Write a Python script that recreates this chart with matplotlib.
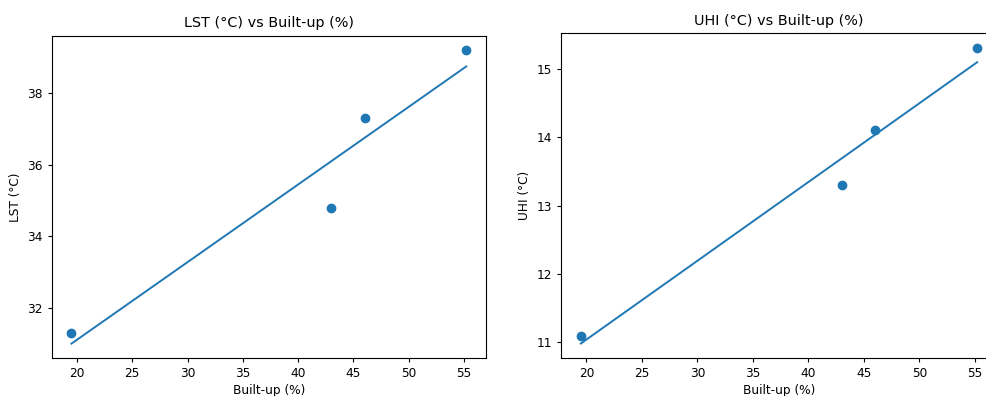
import numpy as np
import matplotlib
matplotlib.use("Agg")
import matplotlib.pyplot as plt

built_up = [19.5, 43.0, 46.0, 55.2]
lst = [31.3, 34.8, 37.3, 39.2]
uhi = [11.1, 13.3, 14.1, 15.3]

plt.rcParams['font.size'] = 8.7
plt.rcParams['axes.titlesize'] = 10.4

fig = plt.figure(figsize=(9.87, 3.96), dpi=100)
ax1 = fig.add_axes([0.0524, 0.0952, 0.440, 0.8146])
ax2 = fig.add_axes([0.5684, 0.0952, 0.4417, 0.8207])

def scatter_fit(ax, x, y, name):
    x = np.array(x)
    y = np.array(y)
    ax.scatter(x, y, s=36)
    m, b = np.polyfit(x, y, 1)
    xs = np.array([x.min(), x.max()])
    ax.plot(xs, m * xs + b, lw=1.4)
    ax.set_title(name + " (°C) vs Built-up (%)")
    ax.set_xlabel("Built-up (%)", labelpad=3)
    ax.set_ylabel(name + " (°C)")
    ax.tick_params(length=3)

scatter_fit(ax1, built_up, lst, "LST")
scatter_fit(ax2, built_up, uhi, "UHI")

fig.savefig("out.png", dpi=100)
